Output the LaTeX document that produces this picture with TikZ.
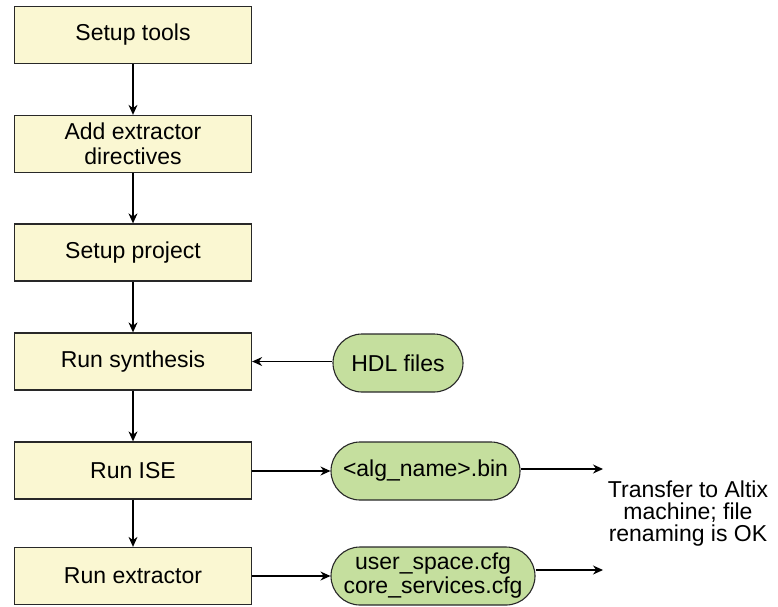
\documentclass[tikz,border=0pt]{standalone}
\usepackage{fontspec}
\setmainfont{Liberation Sans}
\usetikzlibrary{arrows.meta,shapes.misc}
\definecolor{stepfill}{RGB}{250,247,210}
\definecolor{filefill}{RGB}{197,223,158}
\definecolor{edge}{RGB}{40,40,40}
\tikzset{
  x=1pt, y=-1pt,
  stepbox/.style={draw=edge, line width=1.3pt, fill=stepfill, minimum width=237pt,
    minimum height=57pt, align=center, font=\fontsize{23}{25}\selectfont, inner sep=2pt},
  filebox/.style={draw=edge, line width=1.1pt, fill=filefill, rounded rectangle,
    minimum height=58pt, align=center, font=\fontsize{23}{24}\selectfont, inner sep=3pt},
  flow/.style={draw=black, line width=1.2pt, -{Stealth[length=10pt,width=9pt]}},
}
\begin{document}
\begin{tikzpicture}
\useasboundingbox (0,0) rectangle (778,606);
% process steps
\node[stepbox] (s1) at (133,35) {Setup tools};
\node[stepbox] (s2) at (133,144) {Add extractor\\directives};
\node[stepbox] (s3) at (133,252.5) {Setup project};
\node[stepbox] (s4) at (133,361.5) {Run synthesis};
\node[stepbox] (s5) at (133,470.5) {Run ISE};
\node[stepbox] (s6) at (133,576) {Run extractor};
% files
\node[filebox, minimum width=136pt] (hdl) at (398,363) {HDL files};
\node[filebox, minimum width=195pt] (bin) at (425.5,471) {<alg\_name>.bin};
\node[filebox, minimum width=210pt, minimum height=58pt] (cfg) at (433,576) {user\_space.cfg\\core\_services.cfg};
% destination note
\node[align=center, font=\fontsize{23}{22}\selectfont] (xfer) at (688,514) {Transfer to Altix\\machine; file\\renaming is OK};
\coordinate (e1) at (603,469);
\coordinate (e2) at (603,570);
% connectors
\draw[flow] (s1) -- (s2);
\draw[flow] (s2) -- (s3);
\draw[flow] (s3) -- (s4);
\draw[flow] (s4) -- (s5);
\draw[flow] (s5) -- (s6);
\draw[flow] (hdl.west |- s4.east) -- (s4.east);
\draw[flow] (s5.east |- bin.west) -- (bin.west);
\draw[flow] (s6.east |- cfg.west) -- (cfg.west);
\draw[flow] (bin.east |- e1) -- (e1);
\draw[flow] (cfg.east |- e2) -- (e2);
\end{tikzpicture}
\end{document}
